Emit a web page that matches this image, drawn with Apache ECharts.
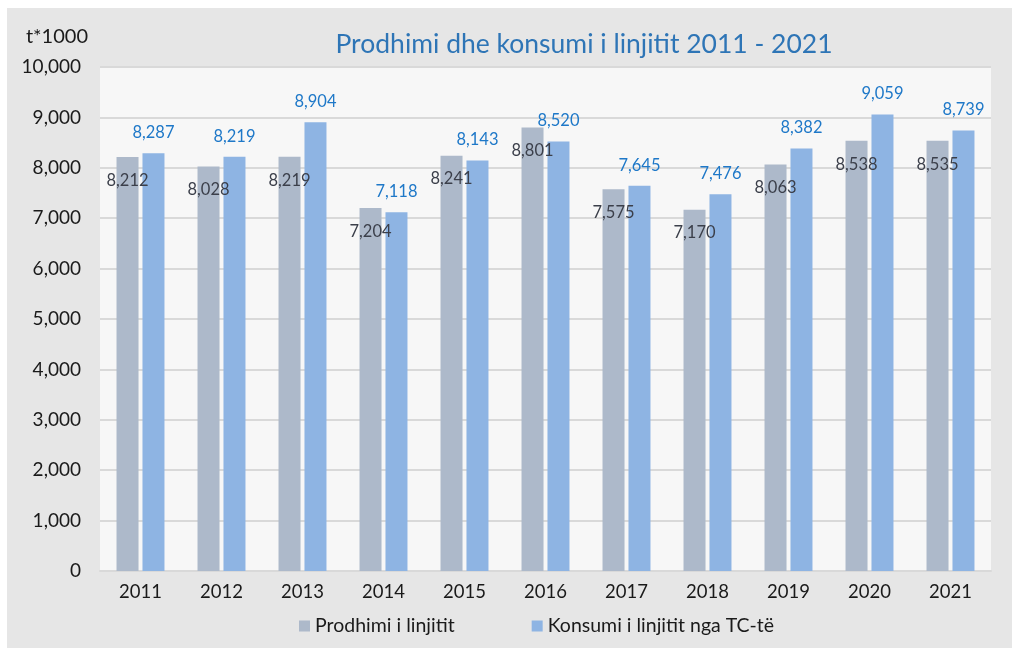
<!DOCTYPE html>
<html>
<head>
<meta charset="utf-8">
<script src="https://cdn.jsdelivr.net/npm/echarts@6/dist/echarts.min.js"></script>
<style>
  html, body { margin: 0; padding: 0; background: #ffffff; }
  #chart { width: 1012px; height: 648px; }
</style>
</head>
<body>
<div id="chart"></div>
<script>
const years = ['2011', '2012', '2013', '2014', '2015', '2016', '2017', '2018', '2019', '2020', '2021']
const production = [8212, 8028, 8219, 7204, 8241, 8801, 7575, 7170, 8063, 8538, 8535]
const consumption = [8287, 8219, 8904, 7118, 8143, 8520, 7645, 7476, 8382, 9059, 8739]
const seriesNames = ['Prodhimi i linjitit', 'Konsumi i linjitit nga TC-të']

const font = 'Lato, "Open Sans", sans-serif'
const fmt = v => Number(v).toLocaleString('en-US')

let chart = echarts.init(document.getElementById('chart'))
chart.setOption({
    textStyle: { fontFamily: font },
    graphic: [{
        type: 'rect',
        z: -10,
        shape: { x: 7, y: 8, width: 1005, height: 640 },
        style: { fill: '#e6e6e6' }
    }],
    title: {
        text: 'Prodhimi dhe konsumi i linjitit 2011 - 2021',
        left: 579,
        textAlign: 'center',
        top: 26,
        textStyle: { color: '#2e75b6', fontSize: 26.5, fontWeight: 'normal', fontFamily: font }
    },
    legend: {
        data: seriesNames,
        bottom: 7,
        left: 294,
        itemWidth: 11,
        itemHeight: 11,
        itemGap: 77,
        icon: 'rect',
        textStyle: { color: '#1a1a1a', fontSize: 19.5, fontFamily: font }
    },
    grid: {
        left: 100,
        right: 21,
        top: 67,
        bottom: 77,
        show: true,
        backgroundColor: '#f7f7f7',
        borderWidth: 0
    },
    xAxis: {
        type: 'category',
        data: years,
        axisLine: { lineStyle: { color: '#d9d9d9', width: 2 } },
        axisTick: { show: false },
        axisLabel: { color: '#1a1a1a', fontSize: 18.5, margin: 12, fontFamily: font }
    },
    yAxis: {
        type: 'value',
        min: 0,
        max: 10000,
        interval: 1000,
        name: 't*1000',
        nameLocation: 'end',
        nameGap: 20,
        nameTextStyle: { color: '#1a1a1a', fontSize: 20, align: 'right', padding: [0, 12, 0, 0], fontFamily: font },
        axisLine: { show: false },
        axisTick: { show: false },
        splitLine: { lineStyle: { color: '#d9d9d9', width: 2 } },
        axisLabel: { color: '#1a1a1a', fontSize: 19, margin: 19, formatter: fmt, fontFamily: font }
    },
    series: [{
        name: seriesNames[0],
        type: 'bar',
        data: production,
        barWidth: 22,
        barGap: '18%',
        itemStyle: { color: '#adb9ca' },
        label: {
            show: true,
            position: 'insideTop',
            distance: 15,
            color: '#3b3f4a',
            fontSize: 16.5,
            fontFamily: font,
            formatter: p => fmt(p.value)
        }
    }, {
        name: seriesNames[1],
        type: 'bar',
        data: consumption,
        barWidth: 22,
        itemStyle: { color: '#8eb4e3' },
        label: {
            show: true,
            position: 'top',
            distance: 12,
            color: '#1e78c8',
            fontSize: 16.5,
            fontFamily: font,
            formatter: p => fmt(p.value)
        }
    }]
})
</script>
</body>
</html>
